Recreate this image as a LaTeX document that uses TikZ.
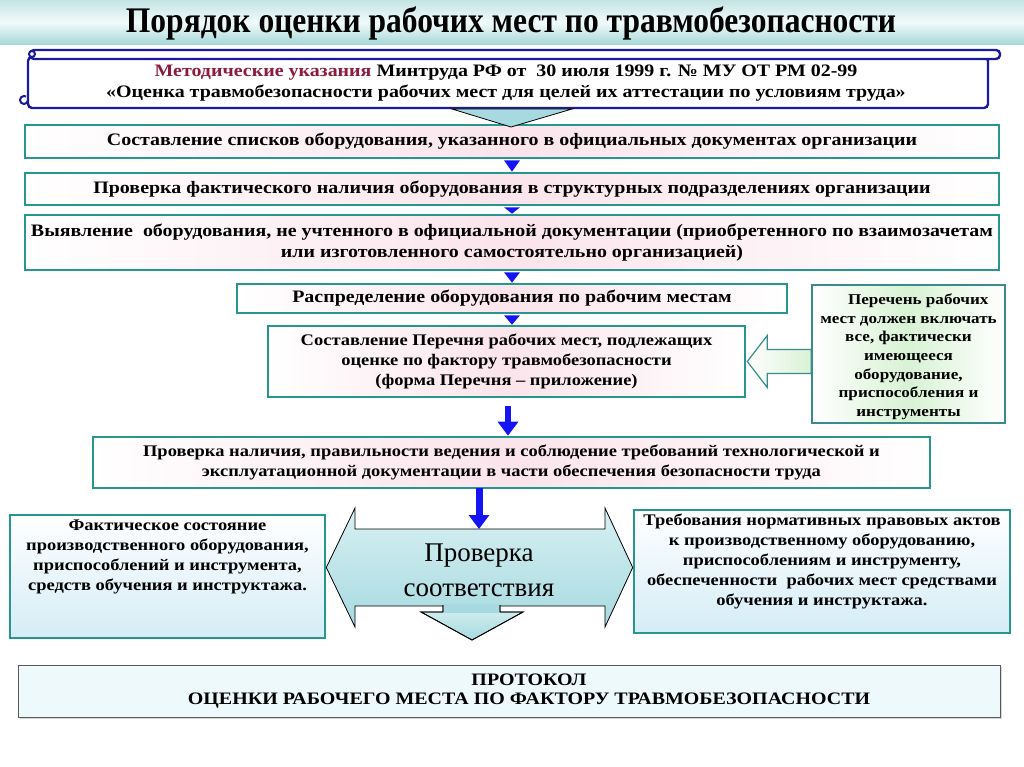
\documentclass[tikz,border=0pt]{standalone}
\usepackage{fontspec}
\setmainfont{Liberation Serif}
\newfontfamily\wideserif[FakeStretch=1.14]{Liberation Serif}
\newfontfamily\condserif[FakeStretch=0.875]{Liberation Serif}
\usetikzlibrary{arrows.meta,calc,shadows}
\definecolor{tealc}{HTML}{26968F}
\definecolor{blueb}{HTML}{1414F5}
\definecolor{scrollc}{HTML}{1A1A9A}
\definecolor{pinkc}{HTML}{FBE4EC}
\definecolor{greenc}{HTML}{D8F2D4}
\definecolor{lblue}{HTML}{D4ECF6}
\definecolor{arrowc}{HTML}{A6DAE0}
\definecolor{arrowl}{HTML}{D8F0F2}
\definecolor{maroonc}{HTML}{8E1B3E}
\definecolor{notebord}{HTML}{3A8C8C}
\definecolor{bandtop}{HTML}{C4E4E4}
\definecolor{bandmid}{HTML}{F2FAFA}
\definecolor{bandbot}{HTML}{A4D6D6}
\definecolor{protof}{HTML}{EEF9FC}
\newcommand\bxf{\wideserif\bfseries\fontsize{17.5}{21}\selectfont}
\newcommand\bxs{\wideserif\bfseries\fontsize{16.2}{20}\selectfont}
\tikzset{
  stepbox/.style={draw=tealc, line width=2.6pt, left color=white, right color=white, middle color=pinkc, inner sep=0pt, align=center, font=\bxf},
  notebox/.style={draw=notebord, line width=1.6pt, left color=white, right color=white, middle color=greenc, inner sep=0pt},
  lowbox/.style={draw=tealc, line width=2.6pt, top color=white, bottom color=lblue, inner sep=0pt},
  smalltri/.style={fill=blueb},
  bluearrow/.style={draw=blueb, line width=6pt, -{Triangle[width=20pt,length=14pt]}},
  fatarrow/.style={draw=black, line width=0.8pt, top color=arrowl, bottom color=arrowc},
}
\begin{document}
\begin{tikzpicture}[x=1pt,y=-1pt]
\useasboundingbox (0,0) rectangle (1024,767);
\fill[white] (0,0) rectangle (1024,767);
% title band
\shade[top color=bandtop, bottom color=bandbot, middle color=bandmid] (0,0) rectangle (1024,45);
\node (title) at (511,23) {\condserif\bfseries\fontsize{36}{40}\selectfont Порядок оценки рабочих мест по травмобезопасности};
% scroll
\draw[draw=scrollc, line width=2.4pt, fill=white, rounded corners=4pt] (28,57) rectangle (988,108);
\draw[draw=scrollc, line width=2.4pt, fill=white, rounded corners=4pt] (30,50) rectangle (1000,59);
\draw[draw=scrollc, line width=2pt, fill=white] (32,54) circle (3);
\draw[draw=scrollc, line width=2pt] (28,100) arc (0:300:4);
\node[font=\bxf, align=center] (scroll) at (506,83) {\textcolor{maroonc}{Методические указания} Минтруда РФ от\ \ 30 июля 1999 г. № МУ ОТ РМ 02-99\\[0pt]«Оценка травмобезопасности рабочих мест для целей их аттестации по условиям труда»};
% boxes
\node[stepbox, minimum width=974pt, minimum height=33pt] (b1) at (512,141.5) {Составление списков оборудования, указанного в официальных документах организации};
\node[stepbox, minimum width=974pt, minimum height=32pt] (b2) at (512,189) {Проверка фактического наличия оборудования в структурных подразделениях организации};
\node[stepbox, minimum width=974pt, minimum height=55pt] (b3) at (512,242.5) {Выявление\ \ оборудования, не учтенного в официальной документации (приобретенного по взаимозачетам\\или изготовленного самостоятельно организацией)};
\node[stepbox, minimum width=550pt, minimum height=29pt] (b4) at (512,298.5) {Распределение оборудования по рабочим местам};
\node[stepbox, minimum width=477pt, minimum height=71pt, font=\bxs] (b5) at (506.5,361.5) {Составление Перечня рабочих мест, подлежащих\\оценке по фактору травмобезопасности\\(форма Перечня – приложение)};
\node[notebox, minimum width=193pt, minimum height=138pt] (note) at (908.5,354) {};
\node[font=\wideserif\bfseries\fontsize{15}{18.7}\selectfont, align=center, anchor=north] (notetext) at ($(note.north)+(0,6)$) {\hspace*{1.3em}Перечень рабочих\\мест должен включать\\все, фактически\\имеющееся\\оборудование,\\приспособления и\\инструменты};
\node[stepbox, minimum width=837pt, minimum height=51pt, font=\bxs] (b6) at (511.5,462.5) {Проверка наличия, правильности ведения и соблюдение требований технологической и\\эксплуатационной документации в части обеспечения безопасности труда};
\node[lowbox, minimum width=315pt, minimum height=123pt] (left) at (167.5,576.5) {};
\node[font=\bxs, align=center, anchor=north] (lefttext) at ($(left.north)+(0,3)$) {Фактическое состояние\\производственного оборудования,\\приспособлений и инструмента,\\средств обучения и инструктажа.};
\node[lowbox, minimum width=376pt, minimum height=123pt] (right) at (822,571.5) {};
\node[font=\bxs, align=center, anchor=north] (righttext) at ($(right.north)+(0,2)$) {Требования нормативных правовых актов\\к производственному оборудованию,\\приспособлениям и инструменту,\\обеспеченности\ \ рабочих мест средствами\\обучения и инструктажа.};
\node[draw=black!65, line width=1pt, fill=protof, minimum width=982pt, minimum height=52pt, drop shadow={shadow xshift=1.5pt, shadow yshift=-1.5pt, fill=black!30}] (proto) at (509,691) {};
\node[align=center, font=\wideserif\bfseries\fontsize{17.5}{19}\selectfont] (prototext) at (529,691) {ПРОТОКОЛ\\ОЦЕНКИ РАБОЧЕГО МЕСТА ПО ФАКТОРУ ТРАВМОБЕЗОПАСНОСТИ};
% top triangle from scroll
\draw[fill=arrowc, line width=0.8pt] (452,109) -- (572,109) -- (511,127) -- cycle;
% small blue triangles
\fill[smalltri] ($(b1.south)+(-8,1)$) -- ($(b1.south)+(8,1)$) -- (b2.north) -- cycle;
\fill[smalltri] ($(b2.south)+(-8,1)$) -- ($(b2.south)+(8,1)$) -- (b3.north) -- cycle;
\fill[smalltri] ($(b3.south)+(-8,1)$) -- ($(b3.south)+(8,1)$) -- (b4.north) -- cycle;
\fill[smalltri] ($(b4.south)+(-8,1)$) -- ($(b4.south)+(8,1)$) -- (b5.north -| b4.south) -- cycle;
% arrow b5 -> b6
\draw[bluearrow] (508,406) -- (b6.north -| 508,0);
% hollow arrow from note to b5
\coordinate (tip) at ($(b5.east)+(1,0)$);
\draw[draw=notebord, line width=1.2pt, left color=white, right color=greenc] (tip) -- ++(20,-26) -- ++(0,14) -- ($(note.west |- tip)+(0,-12)$) -- ($(note.west |- tip)+(0,12)$) -- ($(tip)+(20,12)$) -- ($(tip)+(20,26)$) -- cycle;
% double arrow
\coordinate (dl) at ($(left.east)+(0,-9)$);
\coordinate (dr) at ($(right.west)+(0,-4)$);
\draw[fatarrow] (dl) -- (355,508) -- (355,529) -- (605,529) -- (605,508) -- (dr) -- (605,627) -- (605,606) -- (355,606) -- (355,627) -- cycle;
\draw[fatarrow] (443,605) -- (443,612) -- (421,612) -- (472,640) -- (523,612) -- (500,612) -- (500,605);
\fill[arrowc] (444,604) rectangle (499,613);
\draw[line width=0.8pt] (443,605) -- (443,612) -- (421,612) -- (472,640) -- (523,612) -- (500,612) -- (500,605);
\node[font=\fontsize{27}{35}\selectfont, align=center] (check) at (479,570) {Проверка\\соответствия};
% arrow b6 -> double arrow
\draw[bluearrow, line width=7pt] (479,488) -- (479,529);
\end{tikzpicture}
\end{document}
